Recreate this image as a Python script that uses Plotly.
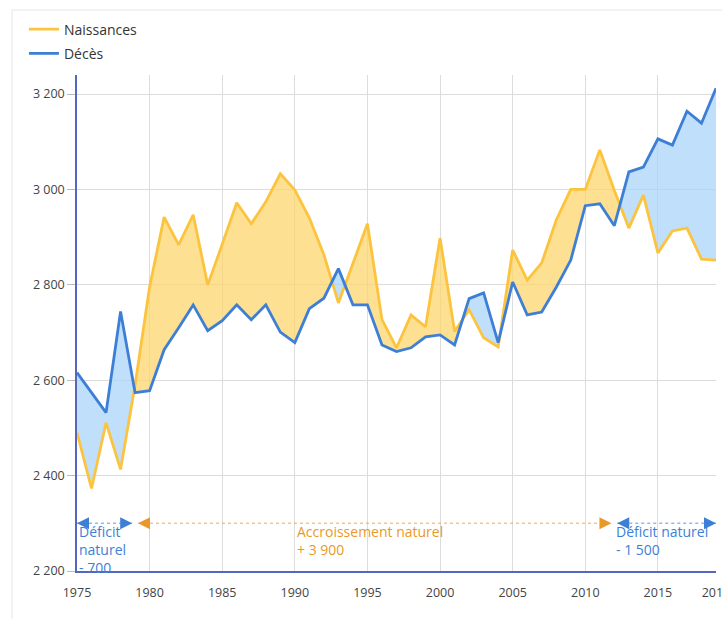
import plotly.graph_objects as go

years = list(range(1975, 2020))
naissances = [2490, 2373, 2511, 2413, 2590, 2796, 2942, 2884, 2947, 2800,
              2885, 2972, 2928, 2974, 3033, 2999, 2940, 2863, 2762, 2846,
              2928, 2727, 2668, 2737, 2712, 2898, 2702, 2748, 2689, 2670,
              2873, 2810, 2846, 2936, 3000, 3000, 3083, 2998, 2919, 2988,
              2867, 2913, 2919, 2854, 2852]
deces = [2616, 2574, 2532, 2744, 2574, 2578, 2664, 2710, 2758, 2704,
         2725, 2758, 2727, 2758, 2701, 2679, 2750, 2772, 2834, 2758,
         2758, 2674, 2660, 2668, 2691, 2695, 2674, 2771, 2783, 2679,
         2806, 2737, 2743, 2795, 2852, 2966, 2970, 2924, 3037, 3047,
         3106, 3093, 3164, 3139, 3212]

y_ticks = [2200, 2400, 2600, 2800, 3000, 3200]
y_ticktext = ["2 200", "2 400", "2 600", "2 800", "3 000", "3 200"]
x_ticks = [1975, 1980, 1985, 1990, 1995, 2000, 2005, 2010, 2015, 2019]

# periods of natural balance (start, end, label, kind)
periods = [
    (1975, 1978.8, "Déficit<br>naturel<br>- 700", "deficit"),
    (1979.2, 2011.8, "Accroissement naturel<br>+ 3 900", "accroissement"),
    (2012.2, 2019, "Déficit naturel<br>- 1 500", "deficit"),
]
period_label_x = [1975, 1990, 2012]
period_y = 2300

YELLOW = "#fcc43e"
YELLOW_FILL = "rgba(253,213,110,0.75)"
BLUE = "#3d7fd6"
BLUE_FILL = "rgba(170,212,250,0.75)"
ORANGE = "#e9992a"
AXIS = "#5566c0"

# densify with crossing points so fills follow the lines exactly
xs, na, de = [], [], []
for i in range(len(years)):
    if i > 0:
        d0 = naissances[i - 1] - deces[i - 1]
        d1 = naissances[i] - deces[i]
        if d0 * d1 < 0:
            t = d0 / (d0 - d1)
            xc = years[i - 1] + t * (years[i] - years[i - 1])
            yc = naissances[i - 1] + t * (naissances[i] - naissances[i - 1])
            xs.append(xc); na.append(yc); de.append(yc)
    xs.append(years[i]); na.append(naissances[i]); de.append(deces[i])
low = [min(a, b) for a, b in zip(na, de)]

fig = go.Figure()
fig.add_trace(go.Scatter(x=xs, y=low, mode="lines", line=dict(width=0),
                         showlegend=False, hoverinfo="skip"))
fig.add_trace(go.Scatter(x=xs, y=na, mode="lines", line=dict(width=0),
                         fill="tonexty", fillcolor=YELLOW_FILL,
                         showlegend=False, hoverinfo="skip"))
fig.add_trace(go.Scatter(x=xs, y=low, mode="lines", line=dict(width=0),
                         showlegend=False, hoverinfo="skip"))
fig.add_trace(go.Scatter(x=xs, y=de, mode="lines", line=dict(width=0),
                         fill="tonexty", fillcolor=BLUE_FILL,
                         showlegend=False, hoverinfo="skip"))
fig.add_trace(go.Scatter(x=years, y=naissances, mode="lines", name="Naissances",
                         legendgroup="n", line=dict(color=YELLOW, width=2.8)))
fig.add_trace(go.Scatter(x=years, y=deces, mode="lines", name="Décès",
                         legendgroup="d", line=dict(color=BLUE, width=2.8)))

for (x0, x1, label, kind), lx in zip(periods, period_label_x):
    col = BLUE if kind == "deficit" else ORANGE
    lcol = "rgba(61,127,214,0.55)" if kind == "deficit" else "rgba(233,153,42,0.55)"
    fig.add_trace(go.Scatter(x=[x0, x1], y=[period_y, period_y], mode="lines",
                             line=dict(color=lcol, width=1.5, dash="dot"),
                             showlegend=False, hoverinfo="skip"))
    fig.add_trace(go.Scatter(x=[x0, x1], y=[period_y, period_y], mode="markers",
                             marker=dict(symbol=["arrow-left", "arrow-right"],
                                         size=12, color=col),
                             showlegend=False, hoverinfo="skip"))
    fig.add_annotation(x=lx, y=period_y, xref="x", yref="y", text=label,
                       showarrow=False, xanchor="left", yanchor="top",
                       align="left", yshift=3,
                       font=dict(size=14, color=col, family="Open Sans"))

fig.add_shape(type="rect", xref="paper", yref="paper",
              x0=-0.1017, x1=1.3, y0=-0.3, y1=1.131,
              line=dict(color="#e6e6e6", width=1), layer="below")

fig.update_layout(
    width=722, height=619,
    margin=dict(l=77, r=6, t=75, b=48, autoexpand=False),
    paper_bgcolor="white", plot_bgcolor="white",
    font=dict(family="Open Sans", color="#444"),
    legend=dict(x=-0.083, y=1.124, xanchor="left", yanchor="top",
                traceorder="grouped",
                font=dict(size=14, color="#333"), bgcolor="rgba(0,0,0,0)",
                tracegroupgap=3),
    xaxis=dict(range=[1975, 2019], tickvals=x_ticks, showgrid=True,
               gridcolor="#dcdcdc", gridwidth=1, showline=True,
               linecolor=AXIS, linewidth=1.5, zeroline=False,
               ticklabeloverflow="allow", ticklabelstandoff=9,
               tickfont=dict(size=12.5, color="#444"), ticks=""),
    yaxis=dict(range=[2200, 3240], tickvals=y_ticks, ticktext=y_ticktext,
               showgrid=True, gridcolor="#dcdcdc", gridwidth=1,
               showline=True, linecolor=AXIS, linewidth=1.5, zeroline=False,
               ticks="outside", ticklen=8, tickcolor="#bbb",
               tickfont=dict(size=12.5, color="#444")),
)

fig.write_html("out.html", config={"displayModeBar": False},
               post_script="document.body.style.margin='0';")
